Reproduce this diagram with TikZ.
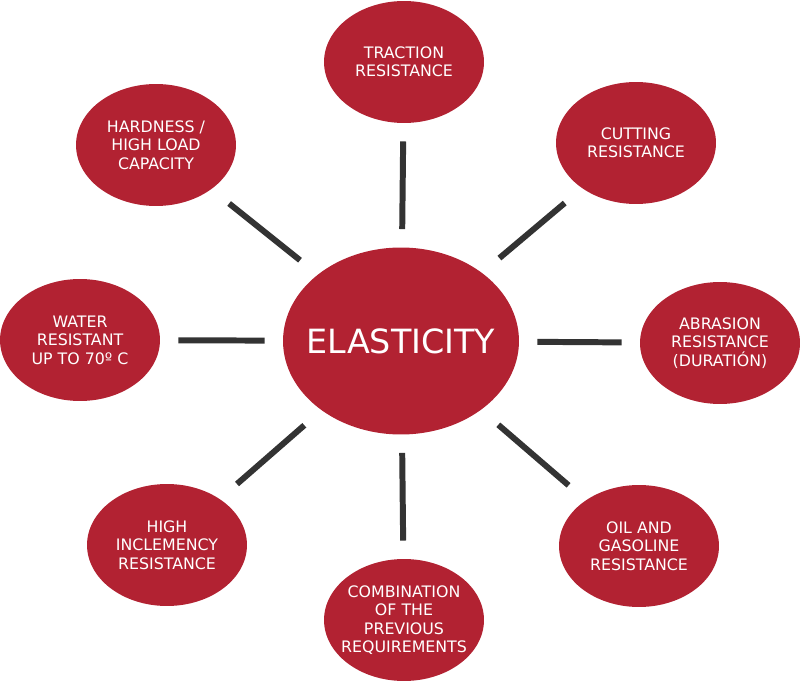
\documentclass[tikz,border=0pt]{standalone}
\usepackage{fontspec}
\setmainfont{DejaVu Sans}
\usetikzlibrary{shapes.geometric}
\definecolor{featred}{RGB}{178,34,50}
\definecolor{linkgray}{RGB}{51,51,51}
\tikzset{
	feature/.style={ellipse, fill=featred, text=white, minimum width=3.2cm, minimum height=2.44cm, inner xsep=-0.9cm, inner ysep=0pt, outer sep=0pt, align=center, font=\fontsize{9}{10.5}\selectfont},
	core/.style={ellipse, fill=featred, text=white, minimum width=4.72cm, minimum height=3.74cm, inner xsep=-1.2cm, inner ysep=0pt, outer sep=0pt, font=\fontsize{19}{21}\selectfont},
	link/.style={draw=linkgray, line width=3.4pt, shorten <=0.37cm, shorten >=0.37cm},
	diaglink/.style={link, shorten <=0.46cm, shorten >=0.46cm}
}
\begin{document}
\begin{tikzpicture}[x=0.02cm,y=-0.02cm]
			\useasboundingbox (0,0) rectangle (800,685);
			%Centre
			\node[core] (C) at (401,341) {ELASTICITY};
			%Properties
			\node[feature] (trac) at (404,62) {TRACTION\\RESISTANCE};
			\node[feature] (cut) at (636,143) {CUTTING\\RESISTANCE};
			\node[feature] (abr) at (720,343) {ABRASION\\RESISTANCE\\(DURATIÓN)};
			\node[feature] (oil) at (639,546) {OIL AND\\GASOLINE\\RESISTANCE};
			\node[feature] (comb) at (404,620) {COMBINATION\\OF THE\\PREVIOUS\\REQUIREMENTS};
			\node[feature] (incl) at (167,545) {HIGH\\INCLEMENCY\\RESISTANCE};
			\node[feature] (water) at (80,340) {WATER\\RESISTANT\\UP TO 70º C};
			\node[feature] (hard) at (156,145) {HARDNESS /\\HIGH LOAD\\CAPACITY};
			%Links
			\draw[link] (C) -- (trac);
			\draw[diaglink] (C) -- (cut);
			\draw[link] (C) -- (abr);
			\draw[diaglink] (C) -- (oil);
			\draw[link] (C) -- (comb);
			\draw[diaglink] (C) -- (incl);
			\draw[link] (C) -- (water);
			\draw[diaglink] (C) -- (hard);
		\end{tikzpicture}
\end{document}
